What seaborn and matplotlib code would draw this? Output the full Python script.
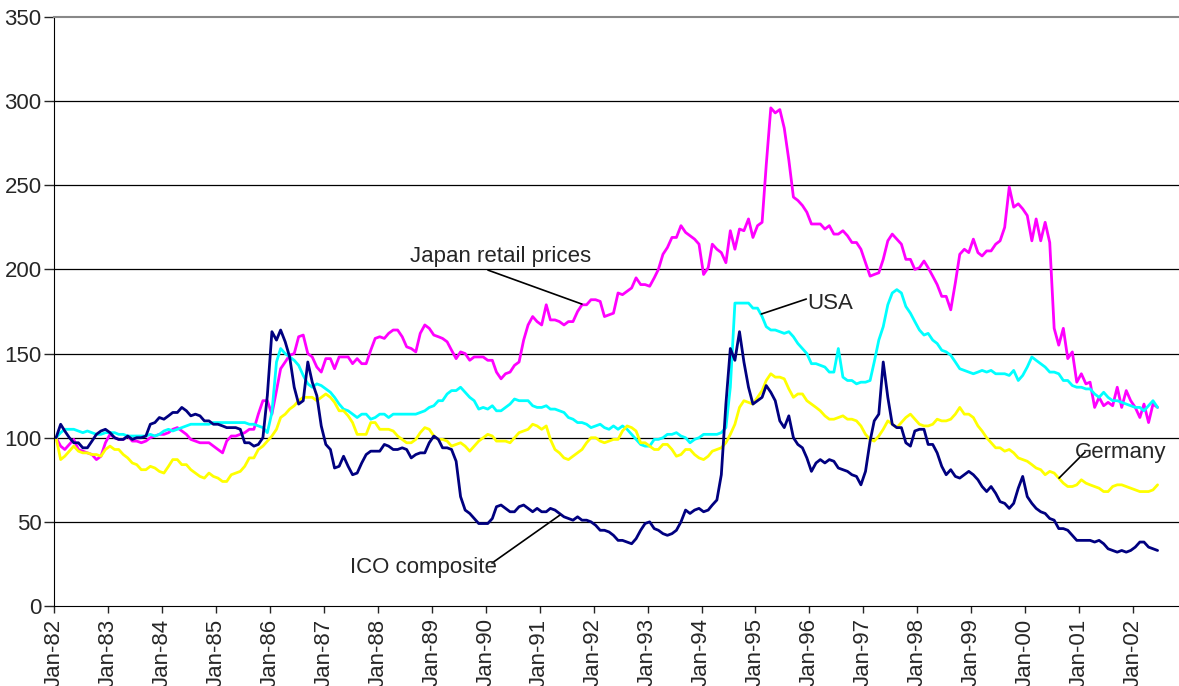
import numpy as np
import pandas as pd
import seaborn as sns
import matplotlib.pyplot as plt
import matplotlib.dates as mdates

# monthly index values, Jan-82 .. Jun-02 (Jan-82 = 100)
japan = [100, 95, 93, 96, 99, 93, 92, 91, 90, 87, 89, 97,
         102, 100, 99, 99, 101, 98, 98, 97, 98, 100, 101, 102,
         102, 103, 105, 106, 104, 102, 99, 98, 97, 97, 97, 95,
         93, 91, 98, 101, 101, 102, 103, 105, 105, 114, 122, 122,
         114, 128, 141, 145, 149, 150, 160, 161, 150, 148, 142, 139,
         147, 147, 141, 148, 148, 148, 144, 147, 144, 144, 152, 159,
         160, 159, 162, 164, 164, 160, 154, 153, 151, 162, 167, 165,
         161, 160, 159, 157, 152, 147, 151, 150, 146, 148, 148, 148,
         146, 146, 139, 135, 138, 139, 143, 145, 158, 167, 172, 169,
         167, 179, 170, 170, 169, 167, 169, 169, 175, 179, 179, 182,
         182, 181, 172, 173, 174, 186, 185, 187, 189, 195, 191, 191,
         190, 195, 200, 209, 213, 219, 219, 226, 222, 220, 218, 215,
         197, 201, 215, 212, 210, 204, 223, 212, 224, 223, 230, 219,
         226, 228, 262, 296, 293, 295, 284, 265, 243, 241, 238, 234,
         227, 227, 227, 224, 226, 221, 221, 223, 220, 216, 216, 212,
         204, 196, 197, 198, 206, 217, 221, 218, 215, 206, 206, 200,
         201, 205, 201, 196, 191, 184, 184, 176, 192, 209, 212, 210,
         218, 210, 208, 211, 211, 215, 217, 225, 249, 237, 239, 236,
         232, 217, 230, 217, 228, 216, 165, 155, 165, 147, 151, 133,
         138, 132, 133, 118, 124, 119, 121, 119, 130, 118, 128, 122,
         118, 112, 120, 109, 120, 118]

usa = [100, 103, 105, 105, 105, 104, 103, 104, 103, 102, 102, 103,
       103, 103, 102, 102, 101, 101, 101, 101, 101, 102, 101, 102,
       104, 105, 104, 105, 106, 107, 108, 108, 108, 108, 108, 109,
       109, 109, 109, 109, 109, 109, 109, 108, 108, 107, 106, 103,
       115, 145, 153, 150, 148, 146, 143, 137, 132, 130, 132, 131,
       129, 127, 124, 120, 117, 116, 114, 112, 114, 114, 111, 112,
       114, 114, 112, 114, 114, 114, 114, 114, 114, 115, 116, 118,
       119, 122, 122, 126, 128, 128, 130, 127, 124, 122, 117, 118,
       117, 119, 116, 116, 118, 120, 123, 122, 122, 122, 119, 118,
       118, 119, 117, 117, 116, 115, 112, 111, 109, 109, 108, 106,
       107, 108, 106, 105, 107, 105, 107, 105, 102, 99, 96, 95,
       95, 99, 99, 100, 102, 102, 103, 101, 100, 97, 99, 100,
       102, 102, 102, 102, 103, 106, 130, 180, 180, 180, 180, 177,
       177, 172, 166, 164, 164, 163, 162, 163, 160, 156, 153, 150,
       144, 144, 143, 142, 139, 139, 153, 136, 134, 134, 132, 133,
       133, 134, 145, 158, 166, 179, 186, 188, 186, 178, 174, 169,
       164, 161, 162, 158, 156, 152, 151, 149, 145, 141, 140, 139,
       138, 139, 140, 139, 140, 138, 138, 138, 137, 140, 134, 137,
       142, 148, 146, 144, 142, 139, 139, 138, 134, 134, 131, 130,
       130, 129, 129, 126, 124, 127, 124, 122, 122, 121, 120, 119,
       118, 118, 116, 119, 122, 118]

germany = [100, 87, 89, 92, 95, 92, 91, 91, 90, 90, 89, 93,
           95, 93, 93, 90, 88, 85, 84, 81, 81, 83, 82, 80,
           79, 83, 87, 87, 84, 84, 81, 79, 77, 76, 79, 77,
           76, 74, 74, 78, 79, 80, 83, 88, 88, 93, 95, 98,
           101, 105, 112, 114, 117, 119, 122, 124, 124, 124, 122, 124,
           126, 124, 121, 116, 116, 113, 109, 102, 102, 102, 109, 109,
           105, 105, 105, 104, 101, 99, 97, 97, 99, 103, 106, 105,
           101, 99, 99, 98, 95, 96, 97, 95, 92, 95, 98, 100,
           102, 101, 98, 98, 98, 97, 100, 103, 104, 105, 108, 107,
           105, 107, 99, 93, 91, 88, 87, 89, 91, 93, 97, 100,
           100, 98, 97, 98, 99, 99, 104, 107, 106, 104, 97, 97,
           95, 93, 93, 96, 96, 93, 89, 90, 93, 93, 90, 88,
           87, 89, 92, 93, 94, 97, 102, 108, 118, 122, 121, 120,
           124, 128, 134, 138, 136, 136, 135, 129, 124, 126, 126, 122,
           120, 118, 116, 113, 111, 111, 112, 113, 111, 111, 110, 107,
           102, 99, 98, 101, 105, 110, 108, 106, 109, 112, 114, 111,
           108, 107, 107, 108, 111, 110, 110, 111, 114, 118, 114, 114,
           112, 107, 104, 100, 97, 94, 94, 92, 93, 91, 88, 87,
           86, 84, 82, 81, 78, 80, 79, 76, 73, 71, 71, 72,
           75, 73, 72, 71, 70, 68, 68, 71, 72, 72, 71, 70,
           69, 68, 68, 68, 69, 72]

ico = [100, 108, 104, 100, 97, 97, 94, 94, 98, 102, 104, 105,
       103, 100, 99, 99, 101, 99, 100, 100, 101, 108, 109, 112,
       111, 113, 115, 115, 118, 116, 113, 114, 113, 110, 110, 108,
       108, 107, 106, 106, 106, 105, 97, 97, 95, 96, 100, 125,
       163, 158, 164, 157, 148, 130, 120, 122, 145, 133, 125, 107,
       96, 93, 82, 83, 89, 83, 78, 79, 85, 90, 92, 92,
       92, 96, 95, 93, 93, 94, 93, 88, 90, 91, 91, 97,
       101, 99, 94, 94, 93, 86, 65, 57, 55, 52, 49, 49,
       49, 52, 59, 60, 58, 56, 56, 59, 60, 58, 56, 58,
       56, 56, 58, 57, 55, 53, 52, 51, 53, 51, 51, 50,
       48, 45, 45, 44, 42, 39, 39, 38, 37, 40, 45, 49,
       50, 46, 45, 43, 42, 43, 45, 50, 57, 55, 57, 58,
       56, 57, 60, 63, 78, 120, 153, 146, 163, 145, 130, 120,
       122, 124, 131, 127, 122, 110, 106, 113, 100, 96, 94, 88,
       80, 85, 87, 85, 87, 86, 82, 81, 80, 78, 77, 72,
       80, 98, 110, 114, 145, 124, 108, 106, 106, 97, 95, 104,
       105, 105, 96, 96, 91, 83, 78, 81, 77, 76, 78, 80,
       78, 75, 71, 68, 71, 67, 62, 61, 58, 61, 70, 77,
       65, 61, 58, 56, 55, 52, 51, 46, 46, 45, 42, 39,
       39, 39, 39, 38, 39, 37, 34, 33, 32, 33, 32, 33,
       35, 38, 38, 35, 34, 33]

series_names = ['Japan retail prices', 'USA', 'Germany', 'ICO composite']
colors = {'Japan retail prices': '#FF00FF', 'USA': '#00FFFF',
          'Germany': '#FFFF00', 'ICO composite': '#000080'}

dates = pd.date_range('1982-01-01', periods=len(ico), freq='MS') + pd.Timedelta(days=14)
df = pd.DataFrame({'date': dates, 'Japan retail prices': japan, 'USA': usa,
                   'Germany': germany, 'ICO composite': ico})
long_df = df.melt(id_vars='date', var_name='series', value_name='value')

sns.set_style('white')
plt.rcParams['font.family'] = ['Liberation Sans', 'DejaVu Sans']

fig = plt.figure(figsize=(11.79, 6.86), dpi=100)
ax = fig.add_axes([54 / 1179, 80 / 686, 1 - 54 / 1179, 589 / 686])

for y in range(50, 350, 50):
    ax.axhline(y, color='black', lw=0.9, zorder=0)

sns.lineplot(data=long_df, x='date', y='value', hue='series', hue_order=series_names,
             palette=colors, linewidth=2, legend=False, ax=ax)

start = pd.Timestamp('1982-01-01')
ax.set_xlim(start, pd.Timestamp('2002-11-07'))
ax.set_ylim(0, 350)
ax.set_yticks(range(0, 351, 50))
ax.xaxis.set_major_locator(mdates.YearLocator(1, month=1, day=1))
ax.xaxis.set_major_formatter(mdates.DateFormatter('%b-%y'))
ax.tick_params(axis='x', direction='out', length=5, width=1, labelsize=16,
               labelrotation=90, pad=4, bottom=True)
ax.tick_params(axis='y', direction='out', length=7, width=1, labelsize=16,
               pad=2, left=True)
ax.set_xlabel('')
ax.set_ylabel('')

ax.spines['right'].set_visible(False)
ax.spines['top'].set_color('#888888')
ax.spines['top'].set_linewidth(1.5)
ax.spines['left'].set_color('black')
ax.spines['bottom'].set_color('black')


def mpos(m):
    # month offset from Jan-82 -> date number
    return mdates.date2num(start) + m * 365.25 / 12


# labels with leader lines
ax.text(mpos(79.2), 207.4, 'Japan retail prices', fontsize=16, ha='left', va='center')
ax.plot([mpos(96.5), mpos(117.4)], [199.6, 179.4], color='black', lw=1.2)

ax.text(mpos(167.5), 180, 'USA', fontsize=16, ha='left', va='center')
ax.plot([mpos(157.3), mpos(167.3)], [173.5, 182.4], color='black', lw=1.2)

ax.text(mpos(227.1), 91.5, 'Germany', fontsize=16, ha='left', va='center')
ax.plot([mpos(223.5), mpos(229.3)], [76, 91.5], color='black', lw=1.2)

ax.text(mpos(65.8), 22.6, 'ICO composite', fontsize=16, ha='left', va='center')
ax.plot([mpos(97.4), mpos(112.5)], [25.5, 54], color='black', lw=1.2)

fig.savefig('out.png', dpi=100)
